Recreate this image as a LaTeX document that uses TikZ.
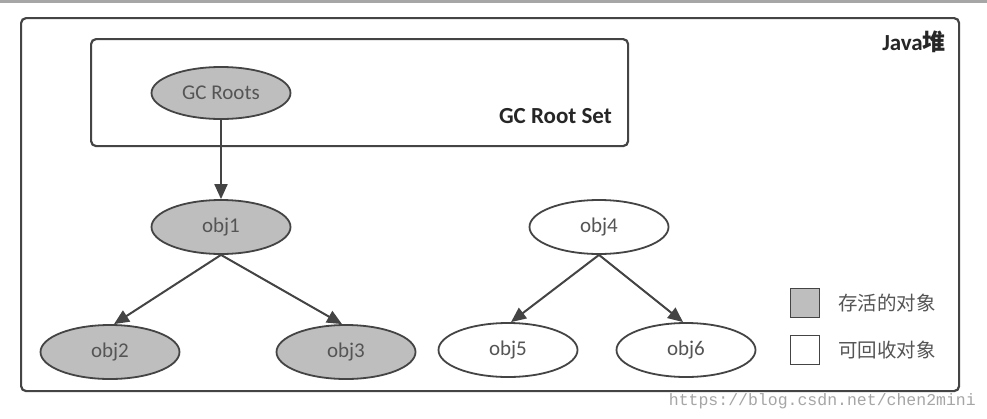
\documentclass[tikz,border=0pt]{standalone}
\usepackage{fontspec}
\setmainfont{Carlito}
\newfontfamily\cjk{Noto Sans CJK SC}
\newfontfamily\wmfont{Liberation Mono}
\usetikzlibrary{shapes.geometric,arrows.meta}
\definecolor{edge}{HTML}{444444}
\definecolor{live}{HTML}{BEBEBE}
\definecolor{txt}{HTML}{555555}
\tikzset{
  obj/.style={ellipse, draw=edge, line width=1.8pt, minimum width=139pt, minimum height=54pt, inner sep=0pt, text=txt, font=\fontsize{21}{21}\selectfont},
  liveobj/.style={obj, fill=live},
  deadobj/.style={obj, fill=white},
  arr/.style={draw=edge, line width=2pt, -{Triangle[length=15pt,width=13pt]}},
  frame/.style={draw=edge, line width=2.2pt, rounded corners=5pt},
  legbox/.style={draw=edge, line width=1.8pt, minimum width=29pt, minimum height=29pt, inner sep=0pt},
  legtxt/.style={anchor=west, text=txt, font=\cjk\fontsize{19.5}{19.5}\selectfont, inner sep=0pt}
}
\begin{document}
\begin{tikzpicture}[x=1pt,y=-1pt]
\useasboundingbox (0,0) rectangle (987,418);
\fill[white] (0,0) rectangle (987,418);
\fill[gray!70] (0,0) rectangle (987,3);
% outer heap box
\node[frame, minimum width=938pt, minimum height=373pt, anchor=north west, inner sep=0pt] (heap) at (20,17) {};
\node[anchor=north east, inner sep=0pt, text=black!85, font=\bfseries\fontsize{23}{23}\selectfont] (heaplbl) at (946,31) {Java{\cjk\bfseries 堆}};
% root set box
\node[frame, minimum width=537pt, minimum height=107pt, anchor=north west, inner sep=0pt] (rootset) at (90,38) {};
\node[anchor=east, inner sep=0pt, text=black!85, font=\bfseries\fontsize{23}{23}\selectfont] (rootlbl) at (612,116) {GC Root Set};
% nodes
\node[liveobj, minimum height=52pt] (roots) at (221,93) {GC Roots};
\node[liveobj] (o1) at (221,227) {obj1};
\node[liveobj] (o2) at (110,352) {obj2};
\node[liveobj] (o3) at (346,352) {obj3};
\node[deadobj] (o4) at (599,227) {obj4};
\node[deadobj] (o5) at (508,350) {obj5};
\node[deadobj] (o6) at (686,350) {obj6};
% arrows
\draw[arr] (roots.south) -- (o1.north);
\draw[arr] (o1.south) -- ([xshift=4pt]o2.north);
\draw[arr] (o1.south) -- ([xshift=-4pt]o3.north);
\draw[arr] (o4.south) -- ([xshift=3pt]o5.north);
\draw[arr] (o4.south) -- ([xshift=-3pt]o6.north);
% legend
\node[legbox, fill=live] (leglive) at (805,303) {};
\node[legtxt] (leglivetxt) at (838,303) {存活的对象};
\node[legbox, fill=white] (legdead) at (805,350) {};
\node[legtxt] (legdeadtxt) at (838,350) {可回收对象};
% watermark
\node[anchor=east, inner sep=0pt, text=black!35, font=\wmfont\fontsize{16.5}{16.5}\selectfont] (wm) at (976,401) {https://blog.csdn.net/chen2mini};
\end{tikzpicture}
\end{document}
